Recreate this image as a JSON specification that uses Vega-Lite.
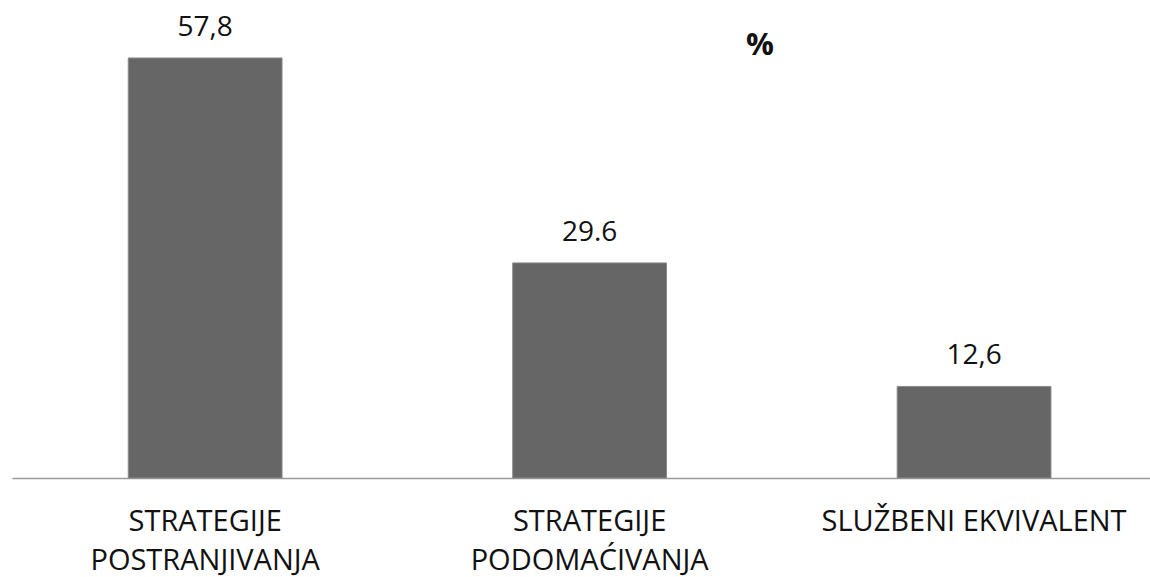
{
  "$schema": "https://vega.github.io/schema/vega-lite/v6.json",
  "autosize": {"type": "none"},
  "padding": {"left": 12, "top": 42, "right": 0, "bottom": 99},
  "width": 1138,
  "height": 436,
  "background": "white",
  "config": {"view": {"stroke": null}, "font": "Open Sans"},
  "title": {"text": "%", "fontSize": 31, "fontWeight": "bold", "color": "#111", "dx": 179, "dy": 52, "anchor": "middle", "font": "Open Sans"},
  "data": {"values": [
    {"kategorija": "STRATEGIJE|POSTRANJIVANJA", "vrijednost": 57.8, "oznaka": "57,8"},
    {"kategorija": "STRATEGIJE|PODOMAĆIVANJA", "vrijednost": 29.6, "oznaka": "29.6"},
    {"kategorija": "SLUŽBENI EKVIVALENT", "vrijednost": 12.6, "oznaka": "12,6"}
  ]},
  "encoding": {
    "x": {"field": "kategorija", "type": "nominal", "sort": null,
      "scale": {"paddingInner": 0.6, "paddingOuter": 0.28, "align": 0.54},
      "axis": {"title": null, "labelAngle": 0, "ticks": false, "domainColor": "#9a9a9a", "domainWidth": 1.5, "labelLimit": 0,
        "labelExpr": "split(datum.label, '|')", "labelFontSize": 29, "labelColor": "#111", "labelPadding": 29, "labelLineHeight": 39, "labelFont": "Open Sans"}},
    "y": {"field": "vrijednost", "type": "quantitative", "scale": {"domain": [0, 60], "nice": false}, "axis": null}
  },
  "layer": [
    {"mark": {"type": "bar", "color": "#666666", "stroke": "#8a8a8a", "strokeWidth": 1}},
    {"mark": {"type": "text", "dy": -22, "baseline": "alphabetic", "fontSize": 28, "color": "#111", "font": "Open Sans"},
      "encoding": {"text": {"field": "oznaka"}}}
  ]
}
